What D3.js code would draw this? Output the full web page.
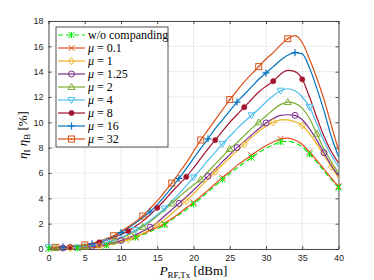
<!DOCTYPE html>
<html>
<head>
<meta charset="utf-8">
<script src="https://cdn.jsdelivr.net/npm/d3@7"></script>
<style>
  body { margin: 0; background: #fff; }
  svg { display: block; }
  .tick text { font-family: "Liberation Sans", Arial, sans-serif; font-size: 9px; fill: #262626; }
</style>
</head>
<body>
<svg id="chart" width="374" height="280"></svg>
<script>
// input power grid [dBm]
const power = d3.range(0, 41);
const xTicks = [0, 5, 10, 15, 20, 25, 30, 35, 40];
const yTicks = [0, 2, 4, 6, 8, 10, 12, 14, 16, 18];

// efficiency [%] per curve
const woCompanding = [0.03, 0.03, 0.04, 0.05, 0.06, 0.08, 0.11, 0.15, 0.28, 0.39, 0.54, 0.71, 0.9, 1.12, 1.36, 1.62, 1.9, 2.3, 2.7, 3.1, 3.55, 4.0, 4.5, 5.0, 5.48, 5.95, 6.4, 6.82, 7.22, 7.6, 7.95, 8.22, 8.45, 8.5, 8.38, 8.05, 7.5, 6.85, 6.15, 5.5, 4.85];
const mu01 = [0.03, 0.03, 0.04, 0.05, 0.06, 0.08, 0.11, 0.15, 0.3, 0.42, 0.58, 0.76, 0.97, 1.2, 1.45, 1.72, 2.0, 2.4, 2.8, 3.25, 3.68, 4.15, 4.65, 5.15, 5.65, 6.1, 6.6, 7.0, 7.4, 7.8, 8.15, 8.45, 8.7, 8.75, 8.6, 8.25, 7.66, 7.0, 6.3, 5.6, 4.95];
const mu1 = [0.05, 0.05, 0.05, 0.06, 0.08, 0.11, 0.16, 0.22, 0.3, 0.42, 0.56, 0.74, 0.96, 1.22, 1.52, 1.88, 2.3, 2.8, 3.3, 3.8, 4.35, 4.95, 5.5, 6.1, 6.65, 7.2, 7.75, 8.3, 8.8, 9.3, 9.7, 10.0, 10.2, 10.2, 10.05, 9.75, 9.1, 8.3, 7.4, 6.5, 5.6];
const mu125 = [0.08, 0.08, 0.08, 0.09, 0.11, 0.15, 0.2, 0.27, 0.37, 0.5, 0.67, 0.88, 1.12, 1.4, 1.72, 2.1, 2.6, 3.1, 3.6, 4.1, 4.65, 5.2, 5.75, 6.3, 6.9, 7.45, 8.0, 8.5, 9.0, 9.5, 9.95, 10.3, 10.55, 10.6, 10.55, 10.2, 9.5, 8.6, 7.6, 6.6, 5.8];
const mu2 = [0.1, 0.1, 0.1, 0.11, 0.14, 0.2, 0.28, 0.38, 0.5, 0.65, 0.85, 1.1, 1.4, 1.75, 2.15, 2.6, 3.1, 3.6, 4.1, 4.6, 5.05, 5.5, 6.1, 6.7, 7.3, 7.9, 8.4, 8.95, 9.5, 10.0, 10.5, 11.0, 11.4, 11.6, 11.5, 11.1, 10.3, 9.1, 7.9, 6.9, 6.0];
const mu4 = [0.13, 0.12, 0.11, 0.1, 0.12, 0.18, 0.27, 0.38, 0.52, 0.7, 0.92, 1.2, 1.5, 1.85, 2.25, 2.7, 3.2, 3.75, 4.35, 5.0, 5.65, 6.3, 7.0, 7.65, 8.3, 8.9, 9.5, 10.05, 10.55, 11.05, 11.6, 12.1, 12.5, 12.65, 12.5, 12.0, 11.2, 9.9, 8.5, 7.4, 6.5];
const mu8 = [0.1, 0.12, 0.14, 0.17, 0.22, 0.3, 0.4, 0.53, 0.7, 0.9, 1.15, 1.42, 1.8, 2.2, 2.7, 3.25, 3.85, 4.5, 5.1, 5.7, 6.4, 7.15, 7.9, 8.6, 9.3, 10.0, 10.6, 11.2, 11.8, 12.4, 12.85, 13.25, 13.8, 14.1, 14.0, 13.4, 12.0, 10.4, 8.9, 7.7, 6.8];
const mu16 = [0.1, 0.12, 0.15, 0.19, 0.24, 0.31, 0.42, 0.57, 0.76, 1.0, 1.3, 1.65, 2.05, 2.48, 2.94, 3.5, 4.15, 4.85, 5.57, 6.35, 7.15, 7.95, 8.7, 9.5, 10.2, 10.9, 11.6, 12.2, 12.8, 13.4, 13.9, 14.4, 14.9, 15.3, 15.5, 15.4, 14.3, 12.7, 10.9, 8.9, 7.3];
const mu32 = [0.1, 0.13, 0.16, 0.2, 0.25, 0.32, 0.45, 0.62, 0.82, 1.05, 1.4, 1.75, 2.15, 2.6, 3.2, 3.8, 4.5, 5.2, 6.0, 6.8, 7.7, 8.6, 9.4, 10.2, 11.0, 11.8, 12.5, 13.2, 13.8, 14.4, 15.0, 15.5, 16.1, 16.6, 16.85, 16.3, 15.0, 13.5, 11.8, 9.8, 7.8];

// markers are placed every 4 dBm, from `start` up to `end`
const series = [
  { label: 'w/o companding', mu: false, values: woCompanding, color: '#00ee00', marker: 'star', dash: '5,3', start: 0, end: 40 },
  { label: '0.1', mu: true, values: mu01, color: '#e4501e', marker: 'x', start: 0, end: 40 },
  { label: '1', mu: true, values: mu1, color: '#edb120', marker: 'diamond', start: 3, end: 39 },
  { label: '1.25', mu: true, values: mu125, color: '#7e2f8e', marker: 'circle', start: 2, end: 38 },
  { label: '2', mu: true, values: mu2, color: '#77ac30', marker: 'up', start: 1, end: 37 },
  { label: '4', mu: true, values: mu4, color: '#4dbeee', marker: 'down', start: 0, end: 36 },
  { label: '8', mu: true, values: mu8, color: '#a2142f', marker: 'dot', start: 3, end: 35 },
  { label: '16', mu: true, values: mu16, color: '#0072bd', marker: 'plus', start: 2, end: 34 },
  { label: '32', mu: true, values: mu32, color: '#d95319', marker: 'square', start: 1, end: 33 }
];

const margin = { top: 21, left: 48.5, right: 35.5, bottom: 31 };
const W = 374, H = 280;
const svg = d3.select('#chart');

const x = d3.scaleLinear().domain([0, 40]).range([margin.left, W - margin.right]);
const y = d3.scaleLinear().domain([0, 18]).range([H - margin.bottom, margin.top]);

// grid
svg.append('g').selectAll('line').data(xTicks).enter().append('line')
  .attr('x1', d => x(d)).attr('x2', d => x(d))
  .attr('y1', y(0)).attr('y2', y(18))
  .attr('stroke', '#e6e6e6').attr('stroke-width', 0.8);
svg.append('g').selectAll('line').data(yTicks).enter().append('line')
  .attr('x1', x(0)).attr('x2', x(40))
  .attr('y1', d => y(d)).attr('y2', d => y(d))
  .attr('stroke', '#e6e6e6').attr('stroke-width', 0.8);

// axes (box on)
svg.append('g').attr('transform', `translate(0,${y(0)})`)
  .call(d3.axisBottom(x).tickValues(xTicks).tickSizeInner(-3).tickSizeOuter(0).tickPadding(6));
svg.append('g').attr('transform', `translate(${x(0)},0)`)
  .call(d3.axisLeft(y).tickValues(yTicks).tickSizeInner(-3).tickSizeOuter(0).tickPadding(5));
svg.append('g').attr('transform', `translate(0,${y(18)})`)
  .call(d3.axisTop(x).tickValues(xTicks).tickSizeInner(-3).tickSizeOuter(0).tickFormat(''));
svg.append('g').attr('transform', `translate(${x(40)},0)`)
  .call(d3.axisRight(y).tickValues(yTicks).tickSizeInner(-3).tickSizeOuter(0).tickFormat(''));
svg.selectAll('.domain, .tick line').attr('stroke', '#262626').attr('stroke-width', 0.8);

// curves
const line = d3.line()
  .x((d, i) => x(power[i]))
  .y(d => y(d))
  .curve(d3.curveMonotoneX);

function drawMarker(g, type, color, cx, cy) {
  const s = 3;
  if (type === 'x') {
    g.append('path').attr('d', `M${cx - s},${cy - s}L${cx + s},${cy + s}M${cx - s},${cy + s}L${cx + s},${cy - s}`)
      .attr('stroke', color).attr('stroke-width', 1);
  } else if (type === 'star') {
    g.append('path').attr('d', `M${cx - s},${cy - s}L${cx + s},${cy + s}M${cx - s},${cy + s}L${cx + s},${cy - s}M${cx},${cy - s}L${cx},${cy + s}`)
      .attr('stroke', color).attr('stroke-width', 1);
  } else if (type === 'plus') {
    g.append('path').attr('d', `M${cx - s - 0.5},${cy}L${cx + s + 0.5},${cy}M${cx},${cy - s - 0.5}L${cx},${cy + s + 0.5}`)
      .attr('stroke', color).attr('stroke-width', 1.2);
  } else if (type === 'circle') {
    g.append('circle').attr('cx', cx).attr('cy', cy).attr('r', s)
      .attr('fill', 'none').attr('stroke', color).attr('stroke-width', 1);
  } else if (type === 'dot') {
    g.append('circle').attr('cx', cx).attr('cy', cy).attr('r', 2.6)
      .attr('fill', color).attr('stroke', color).attr('stroke-width', 0.6);
  } else if (type === 'diamond') {
    g.append('path').attr('d', `M${cx},${cy - s - 0.5}L${cx + s},${cy}L${cx},${cy + s + 0.5}L${cx - s},${cy}Z`)
      .attr('fill', 'none').attr('stroke', color).attr('stroke-width', 1);
  } else if (type === 'up') {
    g.append('path').attr('d', `M${cx},${cy - s - 0.5}L${cx + s + 0.5},${cy + s - 0.5}L${cx - s - 0.5},${cy + s - 0.5}Z`)
      .attr('fill', 'none').attr('stroke', color).attr('stroke-width', 1);
  } else if (type === 'down') {
    g.append('path').attr('d', `M${cx},${cy + s + 0.5}L${cx + s + 0.5},${cy - s + 0.5}L${cx - s - 0.5},${cy - s + 0.5}Z`)
      .attr('fill', 'none').attr('stroke', color).attr('stroke-width', 1);
  } else if (type === 'square') {
    g.append('rect').attr('x', cx - s).attr('y', cy - s).attr('width', 2 * s).attr('height', 2 * s)
      .attr('fill', 'none').attr('stroke', color).attr('stroke-width', 1);
    g.append('circle').attr('cx', cx).attr('cy', cy).attr('r', 0.9).attr('fill', color);
  }
}

const plot = svg.append('g');
series.forEach(s => {
  plot.append('path').datum(s.values)
    .attr('d', line)
    .attr('fill', 'none')
    .attr('stroke', s.color)
    .attr('stroke-width', 1.2)
    .attr('stroke-dasharray', s.dash || null);
});
series.slice().reverse().forEach(s => {
  const g = plot.append('g');
  for (let i = s.start; i <= s.end; i += 4) {
    drawMarker(g, s.marker, s.color, x(power[i]), y(s.values[i]));
  }
});

// legend
const lg = svg.append('g').attr('transform', 'translate(56,27)');
lg.append('rect').attr('width', 112).attr('height', 120)
  .attr('fill', '#fff').attr('stroke', '#262626').attr('stroke-width', 0.8);
series.forEach((s, i) => {
  const ly = 8 + i * 13;
  lg.append('line').attr('x1', 2).attr('x2', 29).attr('y1', ly).attr('y2', ly)
    .attr('stroke', s.color).attr('stroke-width', 1.2)
    .attr('stroke-dasharray', s.dash || null);
  drawMarker(lg, s.marker, s.color, 15.5, ly);
  const t = lg.append('text').attr('x', 32).attr('y', ly + 4)
    .attr('font-family', '"Liberation Serif", "DejaVu Serif", serif')
    .attr('font-size', 12).attr('fill', '#000');
  if (s.mu) {
    t.append('tspan').attr('font-style', 'italic').text('μ');
    t.append('tspan').text(' = ' + s.label);
  } else {
    t.text(s.label);
  }
});

// axis labels
const xl = svg.append('text').attr('x', x(20)).attr('y', 275)
  .attr('text-anchor', 'middle')
  .attr('font-family', '"Liberation Serif", "DejaVu Serif", serif')
  .attr('font-size', 13).attr('fill', '#000');
xl.append('tspan').attr('font-style', 'italic').text('P');
xl.append('tspan').attr('font-size', 9).attr('dy', 3).text('RF,Tx');
xl.append('tspan').attr('dy', -3).text(' [dBm]');

const yl = svg.append('text')
  .attr('transform', `translate(27,${y(9)}) rotate(-90)`)
  .attr('text-anchor', 'middle')
  .attr('font-family', '"Liberation Serif", "DejaVu Serif", serif')
  .attr('font-size', 13).attr('fill', '#000');
yl.append('tspan').attr('font-style', 'italic').text('η');
yl.append('tspan').attr('font-size', 9).attr('dy', 3).text('I');
yl.append('tspan').attr('dy', -3).attr('font-style', 'italic').text(' η');
yl.append('tspan').attr('font-size', 9).attr('dy', 3).text('B');
yl.append('tspan').attr('dy', -3).text(' [%]');
</script>
</body>
</html>
